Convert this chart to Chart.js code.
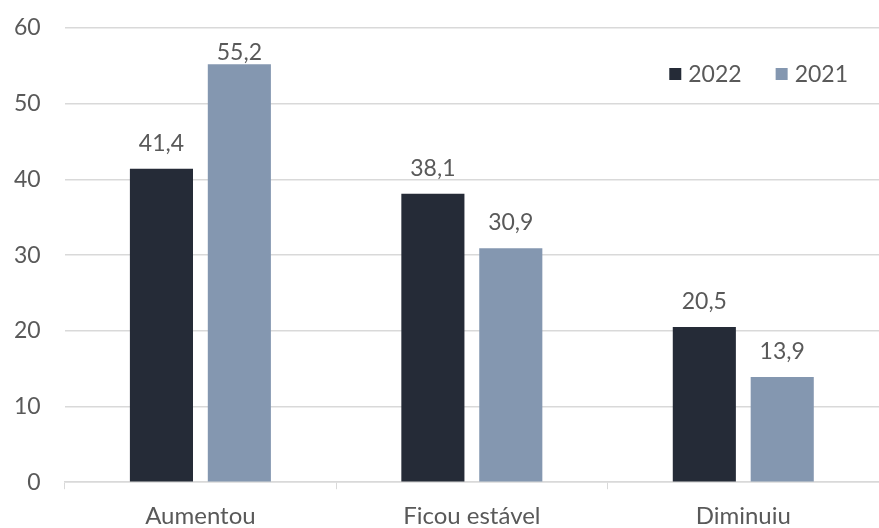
<!DOCTYPE html>
<html>
<head>
<meta charset="utf-8">
<script src="https://cdn.jsdelivr.net/npm/chart.js@4/dist/chart.umd.min.js"></script>
<style>
    html, body { margin: 0; padding: 0; background: #fff; }
    #wrap { width: 879px; height: 528px; }
</style>
</head>
<body>
<div id="wrap"><canvas id="chart"></canvas></div>
<script>
const categories = ["Aumentou", "Ficou estável", "Diminuiu"];
const values2022 = [41.4, 38.1, 20.5];
const values2021 = [55.2, 30.9, 13.9];
const yTicks = [0, 10, 20, 30, 40, 50, 60];

const DARK = "#252b37";
const LIGHT = "#8497b0";
const TEXT = "#595959";
const GRID = "#d9d9d9";
const FONT = "Lato, 'Liberation Sans', sans-serif";

// Excel style value labels above each bar, decimal comma
const valueLabels = {
    id: "valueLabels",
    afterDatasetsDraw(chart) {
        const ctx = chart.ctx;
        const top = chart.chartArea.top;
        ctx.save();
        ctx.font = "23px " + FONT;
        ctx.fillStyle = TEXT;
        ctx.textAlign = "center";
        ctx.textBaseline = "alphabetic";
        chart.data.datasets.forEach((ds, i) => {
            chart.getDatasetMeta(i).data.forEach((bar, j) => {
                const text = ds.data[j].toFixed(1).replace(".", ",");
                // keep the label inside the plot area
                const y = Math.max(bar.y - 18, top + 32);
                ctx.fillText(text, bar.x, y);
            });
        });
        ctx.restore();
    },
};

// legend sits inside the plot, top right
const insideLegend = {
    id: "insideLegend",
    afterDraw(chart) {
        const ctx = chart.ctx;
        const area = chart.chartArea;
        const cy = area.top + 46;
        ctx.save();
        ctx.font = "23px " + FONT;
        ctx.textBaseline = "middle";
        let x = area.right - 31;
        const items = chart.data.datasets.slice().reverse();
        items.forEach((ds) => {
            const w = ctx.measureText(ds.label).width;
            x -= w;
            ctx.fillStyle = TEXT;
            ctx.fillText(ds.label, x, cy + 1);
            ctx.fillStyle = ds.backgroundColor;
            ctx.fillRect(x - 19, cy - 6, 12, 12);
            x -= 19 + 34;
        });
        ctx.restore();
    },
};

// drop the label overhang padding so the layout padding alone places the plot
function noOverhang(scale) {
    scale.paddingTop = 0;
    scale.paddingBottom = 0;
    scale.paddingLeft = 0;
    scale.paddingRight = 0;
}

new Chart(document.getElementById("chart"), {
    type: "bar",
    data: {
        labels: categories,
        datasets: [
            { label: "2022", data: values2022, backgroundColor: DARK },
            { label: "2021", data: values2021, backgroundColor: LIGHT },
        ],
    },
    options: {
        responsive: true,
        maintainAspectRatio: false,
        animation: false,
        layout: { padding: { left: -10, top: 28, right: 0, bottom: -16 } },
        datasets: {
            bar: { categoryPercentage: 0.574, barPercentage: 0.81 },
        },
        plugins: {
            tooltip: { enabled: false },
            legend: { display: false },
        },
        scales: {
            x: {
                afterFit: noOverhang,
                grid: { drawOnChartArea: false, drawTicks: true, tickLength: 7, color: GRID },
                border: { color: GRID, width: 1.5 },
                ticks: { color: TEXT, font: { family: FONT, size: 24 }, padding: 13 },
            },
            y: {
                min: 0,
                max: 60,
                afterFit: noOverhang,
                afterBuildTicks: (axis) => { axis.ticks = yTicks.map((v) => ({ value: v })); },
                grid: { color: GRID, lineWidth: 1.5, drawTicks: false },
                border: { display: false },
                ticks: { color: TEXT, font: { family: FONT, size: 23 }, padding: 24 },
            },
        },
    },
    plugins: [valueLabels, insideLegend],
});
</script>
</body>
</html>
